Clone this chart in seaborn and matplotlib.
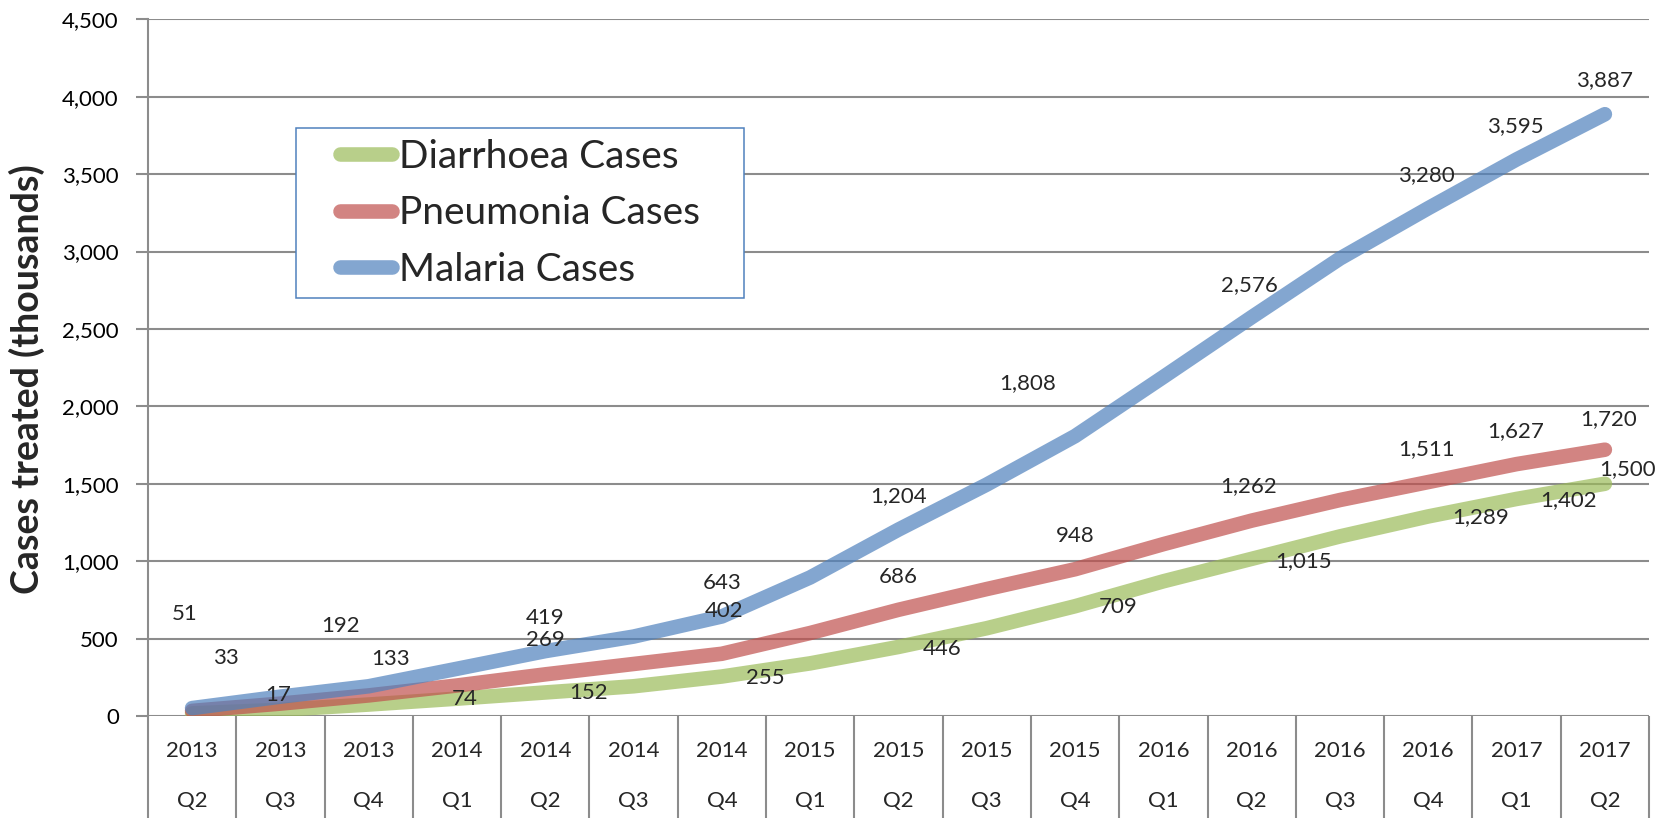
import numpy as np
import pandas as pd
import matplotlib
matplotlib.use("Agg")
import matplotlib.pyplot as plt
import matplotlib.transforms as mtransforms
from matplotlib.lines import Line2D
from matplotlib.legend_handler import HandlerLine2D
from matplotlib.ticker import FuncFormatter, MultipleLocator
import seaborn as sns

# Data (thousands of cases treated)
years = ["2013", "2013", "2013", "2014", "2014", "2014", "2014", "2015", "2015",
         "2015", "2015", "2016", "2016", "2016", "2016", "2017", "2017"]
quarters = ["Q2", "Q3", "Q4", "Q1", "Q2", "Q3", "Q4", "Q1", "Q2",
            "Q3", "Q4", "Q1", "Q2", "Q3", "Q4", "Q1", "Q2"]

diarrhoea = [17, 40, 74, 112, 152, 192, 255, 340, 446, 567, 709, 870, 1015, 1160, 1289, 1402, 1500]
pneumonia = [33, 80, 133, 197, 269, 336, 402, 536, 686, 820, 948, 1110, 1262, 1395, 1511, 1627, 1720]
malaria = [51, 125, 192, 305, 419, 513, 643, 895, 1204, 1495, 1808, 2190, 2576, 2955, 3280, 3595, 3887]

series_names = ["Diarrhoea Cases", "Pneumonia Cases", "Malaria Cases"]
series_colors = ["#9BBB59", "#C0504D", "#4F81BD"]

# which points carry a value label
labelled = [0, 2, 4, 6, 8, 10, 12, 14, 15, 16]

# label placement relative to the point: (category shift, value shift)
label_shift = {
    "Diarrhoea Cases": [(0.98, 119), (1.09, 34), (0.49, -5), (0.49, -12), (0.49, -15),
                        (0.49, -6), (0.59, -15), (0.59, -7), (0.59, -10), (0.26, 93)],
    "Pneumonia Cases": [(0.38, 340), (0.25, 233), (0.0, 222), (0.02, 279), (0.0, 215),
                        (0.0, 216), (-0.03, 222), (-0.02, 213), (-0.01, 214), (0.04, 195)],
    "Malaria Cases": [(-0.08, 606), (-0.32, 390), (0.0, 212), (0.0, 219), (0.0, 214),
                      (-0.54, 343), (-0.03, 209), (-0.02, 216), (-0.01, 214), (0.0, 222)],
}

sns.set_theme(style="white")
plt.rcParams["font.family"] = ["Lato", "DejaVu Sans"]

n = len(quarters)
pos = np.arange(n)
df = pd.DataFrame({
    "pos": np.tile(pos, 3),
    "cases": diarrhoea + pneumonia + malaria,
    "series": np.repeat(series_names, n),
})
palette = dict(zip(series_names, series_colors))

fig, ax = plt.subplots(figsize=(16.64, 8.18), dpi=100)
fig.subplots_adjust(left=0.0889, right=0.991, bottom=0.1247, top=0.9764)

grid_col = "#8C8C8C"
LW = 10.5

sns.lineplot(data=df, x="pos", y="cases", hue="series", palette=palette,
             hue_order=series_names, linewidth=LW, alpha=0.7, errorbar=None,
             solid_capstyle="round", sort=False, legend=False, ax=ax)

ax.set_xlim(-0.5, n - 0.5)
ax.set_ylim(0, 4500)
ax.yaxis.set_major_locator(MultipleLocator(500))
ax.yaxis.set_major_formatter(FuncFormatter(lambda v, p: f"{int(v):,}"))
ax.yaxis.grid(True, color=grid_col, linewidth=1.5)
ax.set_axisbelow(True)
for s in ["top", "right", "bottom"]:
    ax.spines[s].set_visible(False)
ax.spines["left"].set_color(grid_col)
ax.spines["left"].set_linewidth(1.5)
ax.tick_params(axis="y", which="major", direction="out", length=9, width=1.5,
               color=grid_col, pad=12, labelsize=16, labelcolor="black", left=True)
ax.set_xticks([])
ax.set_xlabel("")

# category table under the axis
trans = mtransforms.blended_transform_factory(ax.transData, ax.transAxes)
ax_h = 697.0
for b in np.arange(-0.5, n, 1.0):
    ax.plot([b, b], [0, -0.16], transform=trans, color=grid_col, lw=1.5,
            clip_on=False, solid_capstyle="butt")
for i in range(n):
    ax.text(i, -35 / ax_h, years[i], transform=trans, ha="center", va="center", fontsize=16)
    ax.text(i, -85 / ax_h, quarters[i], transform=trans, ha="center", va="center", fontsize=16)

ax.set_ylabel("Cases treated (thousands)", fontsize=27, fontweight="bold", va="center")
ax.yaxis.set_label_coords(-0.0806, 0.483)

# value labels
values = dict(zip(series_names, [diarrhoea, pneumonia, malaria]))
for name in series_names:
    for idx, (dx, dv) in zip(labelled, label_shift[name]):
        v = values[name][idx]
        ax.text(idx + dx, v + dv, f"{v:,}", ha="center", va="center", fontsize=16)

handles = [Line2D([0], [0], color=c, lw=LW, alpha=0.7, solid_capstyle="round")
           for c in series_colors]
leg = ax.legend(handles, series_names, loc="upper left",
                bbox_to_anchor=(0.0986, 0.7436, 0.2987, 0.1), mode="expand",
                borderaxespad=0, fontsize=28, frameon=True, fancybox=False,
                edgecolor="#4F81BD", framealpha=1, handlelength=3.05,
                handletextpad=-0.66, borderpad=0.27, labelspacing=0.53,
                handler_map={Line2D: HandlerLine2D(numpoints=2, marker_pad=0.86)})
leg.get_frame().set_linewidth(1.1)

fig.savefig("out.png", dpi=100)
